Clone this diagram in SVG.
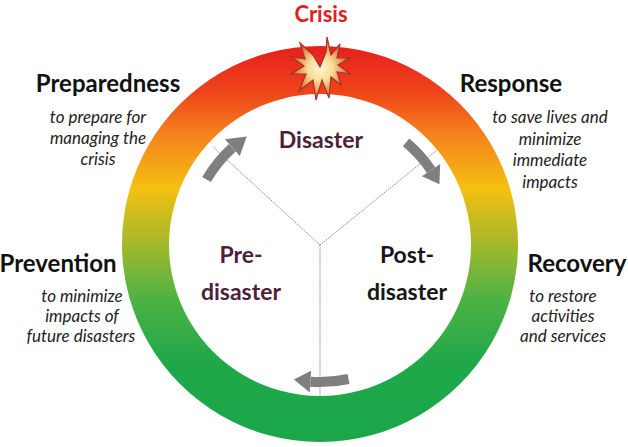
<svg xmlns="http://www.w3.org/2000/svg" width="628" height="447" viewBox="0 0 628 447">
<defs>
<linearGradient id="ringGrad" x1="0" y1="45" x2="0" y2="443" gradientUnits="userSpaceOnUse">
<stop offset="0" stop-color="#e61e1e"/>
<stop offset="0.12" stop-color="#ef4519"/>
<stop offset="0.22" stop-color="#f47f1e"/>
<stop offset="0.36" stop-color="#f5c010"/>
<stop offset="0.49" stop-color="#a9b92a"/>
<stop offset="0.64" stop-color="#4cb244"/>
<stop offset="0.8" stop-color="#1fa84a"/>
<stop offset="1" stop-color="#1ba64a"/>
</linearGradient>
<radialGradient id="starGrad" cx="0.5" cy="0.5" r="0.5">
<stop offset="0" stop-color="#fff8d0"/>
<stop offset="0.4" stop-color="#f9dc98"/>
<stop offset="0.75" stop-color="#e49050"/>
<stop offset="1" stop-color="#c83a24"/>
</radialGradient>
<style>
.title{font-family:Lato,"Liberation Sans",sans-serif;font-weight:bold;font-size:24px;fill:#111;text-anchor:middle}
.desc{font-family:Lato,"Liberation Sans",sans-serif;font-style:italic;font-size:17px;fill:#222;text-anchor:middle}
.phase{font-family:Lato,"Liberation Sans",sans-serif;font-weight:bold;font-size:23px;text-anchor:middle}
.maroon{fill:#4d1f3a}
.dark{fill:#161616}
.divider{stroke:#8a8a8a;stroke-width:1;stroke-dasharray:1.5 1;fill:none}
.arc{stroke:#7f7f7f;stroke-width:10;fill:none}
.head{fill:#7f7f7f}
</style>
</defs>

<g id="ring">
<path d="M320,46 A198,198 0 1 1 319.99,46 Z M320,94 A151,151 0 1 0 320.01,94 Z" fill="url(#ringGrad)" fill-rule="evenodd"/>
</g>

<g id="connectors">
<line class="divider" x1="320" y1="245" x2="213" y2="147"/>
<line class="divider" x1="320" y1="245" x2="437" y2="150"/>
<line class="divider" x1="320" y1="245" x2="320" y2="396"/>
<path class="arc" d="M206.6,179.5 A131,131 0 0 1 232.3,147.7"/>
<polygon class="head" points="224.9,139.3 246.7,136.4 239.8,156.0"/>
<path class="arc" d="M406.1,142.4 A134,134 0 0 1 431.1,170.1"/>
<polygon class="head" points="440.2,163.9 439.4,184.2 421.9,176.3"/>
<path class="arc" d="M348.5,379.0 A137,137 0 0 1 310.4,381.7"/>
<polygon class="head" points="309.7,392.6 293.9,379.5 311.1,370.7"/>
</g>

<g id="crisis-star">
<polygon points="320,67 326,52 327,37 331,55 340,44 337,58 350,58 338,65 351,74 337,72 341,85 331,77 329,98 322,80 316,100 313,80 299,91 306,74 291,74 304,66 290,56 305,59 300,43 313,55" fill="url(#starGrad)" stroke="#a8302a" stroke-width="1.2" stroke-linejoin="miter"/>
</g>

<g id="crisis">
<text x="321" y="22" class="title" style="fill:#e0201e;font-size:22px">Crisis</text>
</g>

<g id="preparedness">
<text x="108" y="92" class="title">Preparedness</text>
<text x="98" y="123" class="desc">to prepare for</text>
<text x="98" y="144" class="desc">managing the</text>
<text x="98" y="165" class="desc">crisis</text>
</g>

<g id="response">
<text x="511" y="92" class="title">Response</text>
<text x="550" y="123" class="desc">to save lives and</text>
<text x="550" y="145" class="desc">minimize</text>
<text x="550" y="166" class="desc">immediate</text>
<text x="550" y="188" class="desc">impacts</text>
</g>

<g id="prevention">
<text x="58" y="272" class="title">Prevention</text>
<text x="82" y="302" class="desc">to minimize</text>
<text x="82" y="322" class="desc">impacts of</text>
<text x="81" y="342" class="desc">future disasters</text>
</g>

<g id="recovery">
<text x="577" y="272" class="title">Recovery</text>
<text x="563" y="302" class="desc">to restore</text>
<text x="563" y="322" class="desc">activities</text>
<text x="563" y="342" class="desc">and services</text>
</g>

<g id="disaster">
<text x="321" y="148" class="phase maroon">Disaster</text>
</g>
<g id="pre-disaster">
<text x="241" y="263" class="phase maroon">Pre-</text>
<text x="241" y="300" class="phase maroon">disaster</text>
</g>
<g id="post-disaster">
<text x="407" y="263" class="phase dark">Post-</text>
<text x="407" y="300" class="phase dark">disaster</text>
</g>
</svg>
